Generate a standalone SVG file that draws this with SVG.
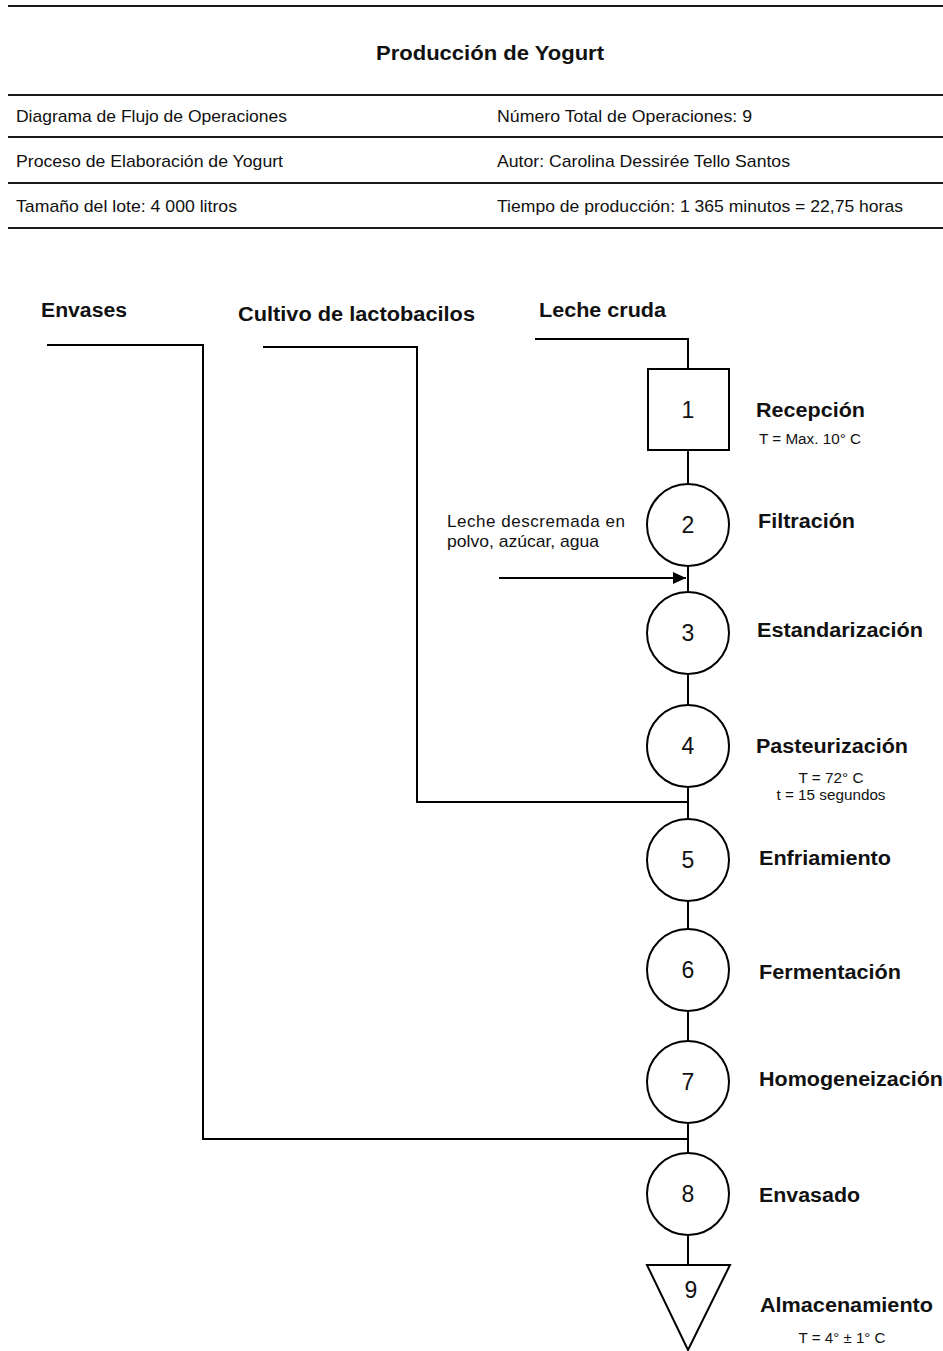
<svg xmlns="http://www.w3.org/2000/svg" width="943" height="1351" viewBox="0 0 943 1351">
<defs>
<style>
.hl{stroke:#1a1a1a;stroke-width:2;fill:none}
.ln{stroke:#000;stroke-width:2;fill:none}
.nd{stroke:#000;stroke-width:2;fill:#fff}
.t{font-family:"Liberation Sans",Arial,sans-serif;fill:#111}
.hdr{font-size:17px}
.ttl{font-size:21px;font-weight:bold}
.lbl{font-size:20px;font-weight:bold}
.num{font-size:23px;text-anchor:middle}
.note{font-size:14px;text-anchor:middle}
.side{font-size:17px}
</style>
<marker id="arr" viewBox="0 0 13 12" refX="13" refY="6" markerWidth="13" markerHeight="12" markerUnits="userSpaceOnUse" orient="auto">
<path d="M0,0 L13,6 L0,12 Z" fill="#000"/>
</marker>
</defs>
<rect width="943" height="1351" fill="#fff"/>
<g id="header">
<line class="hl" x1="8" y1="6" x2="943" y2="6"/>
<line class="hl" x1="8" y1="95" x2="943" y2="95"/>
<line class="hl" x1="8" y1="137" x2="943" y2="137"/>
<line class="hl" x1="8" y1="183" x2="943" y2="183"/>
<line class="hl" x1="8" y1="228" x2="943" y2="228"/>
<text class="t ttl" x="376" y="60" textLength="228" lengthAdjust="spacingAndGlyphs">Producción de Yogurt</text>
<text class="t hdr" x="16" y="122" textLength="271" lengthAdjust="spacingAndGlyphs">Diagrama de Flujo de Operaciones</text>
<text class="t hdr" x="497" y="122" textLength="255" lengthAdjust="spacingAndGlyphs">Número Total de Operaciones: 9</text>
<text class="t hdr" x="16" y="167" textLength="267" lengthAdjust="spacingAndGlyphs">Proceso de Elaboración de Yogurt</text>
<text class="t hdr" x="497" y="167" textLength="293" lengthAdjust="spacingAndGlyphs">Autor: Carolina Dessirée Tello Santos</text>
<text class="t hdr" x="16" y="212" textLength="221" lengthAdjust="spacingAndGlyphs">Tamaño del lote: 4 000 litros</text>
<text class="t hdr" x="497" y="212" textLength="406" lengthAdjust="spacingAndGlyphs">Tiempo de producción: 1 365 minutos = 22,75 horas</text>
</g>
<g id="inputs">
<text class="t lbl" x="41" y="317" textLength="86" lengthAdjust="spacingAndGlyphs">Envases</text>
<text class="t lbl" x="238" y="321" textLength="237" lengthAdjust="spacingAndGlyphs">Cultivo de lactobacilos</text>
<text class="t lbl" x="539" y="317" textLength="127" lengthAdjust="spacingAndGlyphs">Leche cruda</text>
<text class="t side" x="447" y="527" textLength="178" lengthAdjust="spacing">Leche descremada en</text>
<text class="t side" x="447" y="547" textLength="152" lengthAdjust="spacingAndGlyphs">polvo, azúcar, agua</text>
</g>
<g id="connectors">
<polyline class="ln" points="535,339 688,339 688,369"/>
<polyline class="ln" points="263,347 417,347 417,802 688,802"/>
<polyline class="ln" points="47,345 203,345 203,1139 688,1139"/>
<line class="ln" x1="688" y1="450" x2="688" y2="484"/>
<line class="ln" x1="688" y1="566" x2="688" y2="592"/>
<line class="ln" x1="688" y1="674" x2="688" y2="705"/>
<line class="ln" x1="688" y1="787" x2="688" y2="819"/>
<line class="ln" x1="688" y1="901" x2="688" y2="929"/>
<line class="ln" x1="688" y1="1011" x2="688" y2="1041"/>
<line class="ln" x1="688" y1="1123" x2="688" y2="1153"/>
<line class="ln" x1="688" y1="1235" x2="688" y2="1265"/>
<line class="ln" x1="499" y1="578" x2="686" y2="578" marker-end="url(#arr)"/>
</g>
<g id="n1">
<rect class="nd" x="648" y="369" width="81" height="81"/>
<text class="t num" x="688" y="418">1</text>
<text class="t lbl" x="756" y="417" textLength="109" lengthAdjust="spacingAndGlyphs">Recepción</text>
<text class="t note" x="810" y="444" textLength="102" lengthAdjust="spacingAndGlyphs">T = Max. 10° C</text>
</g>
<g id="n2">
<circle class="nd" cx="688" cy="525" r="41"/>
<text class="t num" x="688" y="533">2</text>
<text class="t lbl" x="758" y="528" textLength="97" lengthAdjust="spacingAndGlyphs">Filtración</text>
</g>
<g id="n3">
<circle class="nd" cx="688" cy="633" r="41"/>
<text class="t num" x="688" y="641">3</text>
<text class="t lbl" x="757" y="637" textLength="166" lengthAdjust="spacingAndGlyphs">Estandarización</text>
</g>
<g id="n4">
<circle class="nd" cx="688" cy="746" r="41"/>
<text class="t num" x="688" y="754">4</text>
<text class="t lbl" x="756" y="753" textLength="152" lengthAdjust="spacingAndGlyphs">Pasteurización</text>
<text class="t note" x="831" y="783" textLength="65" lengthAdjust="spacingAndGlyphs">T = 72° C</text>
<text class="t note" x="831" y="800" textLength="109" lengthAdjust="spacingAndGlyphs">t = 15 segundos</text>
</g>
<g id="n5">
<circle class="nd" cx="688" cy="860" r="41"/>
<text class="t num" x="688" y="868">5</text>
<text class="t lbl" x="759" y="865" textLength="132" lengthAdjust="spacingAndGlyphs">Enfriamiento</text>
</g>
<g id="n6">
<circle class="nd" cx="688" cy="970" r="41"/>
<text class="t num" x="688" y="978">6</text>
<text class="t lbl" x="759" y="979" textLength="142" lengthAdjust="spacingAndGlyphs">Fermentación</text>
</g>
<g id="n7">
<circle class="nd" cx="688" cy="1082" r="41"/>
<text class="t num" x="688" y="1090">7</text>
<text class="t lbl" x="759" y="1086" textLength="184" lengthAdjust="spacingAndGlyphs">Homogeneización</text>
</g>
<g id="n8">
<circle class="nd" cx="688" cy="1194" r="41"/>
<text class="t num" x="688" y="1202">8</text>
<text class="t lbl" x="759" y="1202" textLength="101" lengthAdjust="spacingAndGlyphs">Envasado</text>
</g>
<g id="n9">
<polygon class="nd" points="647,1265 730,1265 688,1350"/>
<text class="t num" x="691" y="1298">9</text>
<text class="t lbl" x="760" y="1312" textLength="173" lengthAdjust="spacingAndGlyphs">Almacenamiento</text>
<text class="t note" x="842" y="1343" textLength="87" lengthAdjust="spacingAndGlyphs">T = 4° ± 1° C</text>
</g>
</svg>
